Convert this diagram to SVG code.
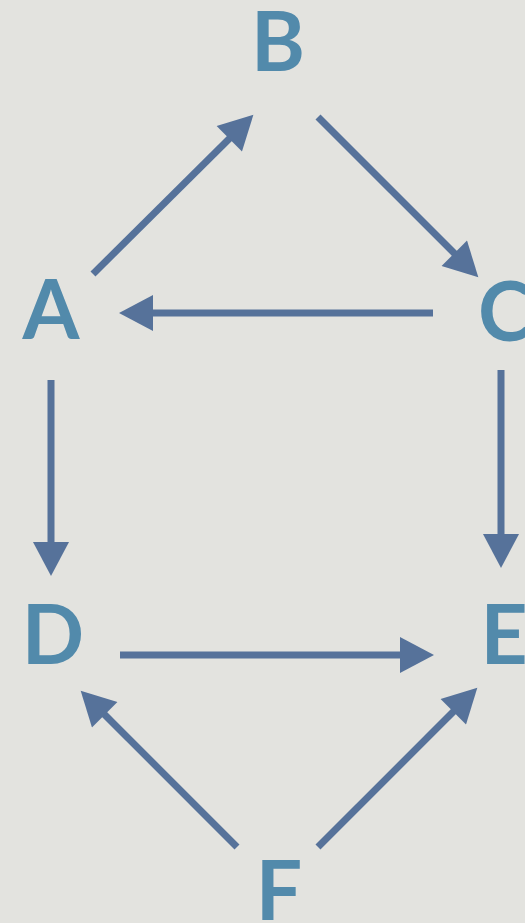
<svg xmlns="http://www.w3.org/2000/svg" width="525" height="923" viewBox="0 0 525 923">
<style>
.lbl{font-family:Lato,"Open Sans","Liberation Sans",sans-serif;font-weight:bold;font-size:82px;fill:#528aab;text-anchor:middle}
.edge{stroke:#56729a;stroke-width:7;fill:none}
</style>
<defs>
<marker id="ah" markerUnits="userSpaceOnUse" markerWidth="36" markerHeight="36" viewBox="0 0 34 36" refX="1" refY="18" orient="auto">
<polygon points="0,0 34,18 0,36" fill="#56729a"/>
</marker>
</defs>
<rect width="525" height="923" fill="#e3e3df"/>
<g id="edges">
<line class="edge" x1="93" y1="274" x2="230" y2="138" marker-end="url(#ah)"/>
<line class="edge" x1="318" y1="117" x2="455" y2="254" marker-end="url(#ah)"/>
<line class="edge" x1="433" y1="313" x2="152" y2="313" marker-end="url(#ah)"/>
<line class="edge" x1="51" y1="380" x2="51" y2="543" marker-end="url(#ah)"/>
<line class="edge" x1="501" y1="370" x2="501" y2="535" marker-end="url(#ah)"/>
<line class="edge" x1="120" y1="655" x2="401" y2="655" marker-end="url(#ah)"/>
<line class="edge" x1="237" y1="847" x2="104" y2="714" marker-end="url(#ah)"/>
<line class="edge" x1="318" y1="847" x2="454" y2="711" marker-end="url(#ah)"/>
</g>
<g id="B"><text class="lbl" x="278" y="71">B</text></g>
<g id="A"><text class="lbl" x="51" y="339">A</text></g>
<g id="C"><text class="lbl" x="505" y="341">C</text></g>
<g id="D"><text class="lbl" x="53" y="664">D</text></g>
<g id="E"><text class="lbl" x="504" y="664">E</text></g>
<g id="F"><text class="lbl" x="279" y="920">F</text></g>
</svg>
